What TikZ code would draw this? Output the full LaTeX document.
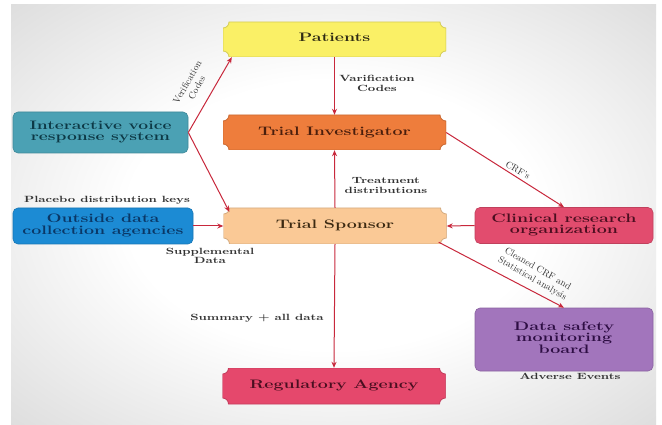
\documentclass[tikz,border=0pt]{standalone}
\usetikzlibrary{calc,arrows.meta}
\usepackage{graphicx}
\definecolor{arr}{HTML}{C8283C}
\definecolor{patF}{HTML}{FAF066}
\definecolor{patT}{HTML}{2E2A14}
\definecolor{tiF}{HTML}{EE7D3C}
\definecolor{tiT}{HTML}{4A1E0C}
\definecolor{tsF}{HTML}{FAC996}
\definecolor{tsT}{HTML}{3C2A12}
\definecolor{raF}{HTML}{E5486C}
\definecolor{raT}{HTML}{4A0E20}
\definecolor{ivF}{HTML}{4BA1B4}
\definecolor{ivT}{HTML}{0D3946}
\definecolor{odF}{HTML}{1C8BD4}
\definecolor{odT}{HTML}{0A3766}
\definecolor{crF}{HTML}{E24C6E}
\definecolor{crT}{HTML}{4C0E20}
\definecolor{dsF}{HTML}{A275BC}
\definecolor{dsT}{HTML}{2E0E44}
\definecolor{lblT}{HTML}{333333}
\pgfdeclareradialshading{bgsh}{\pgfpoint{0bp}{0bp}}{color(0bp)=(white); color(16bp)=(white); color(40bp)=(gray!32); color(50bp)=(gray!42)}
\newcommand{\wtxt}[2][1.45]{\scalebox{#1}[1]{\begin{tabular}{@{}c@{}}#2\end{tabular}}}
\begin{document}
\begin{tikzpicture}[x=1pt,y=-1pt,
 plaque/.style={inner sep=0pt, minimum width=223pt, minimum height=35pt,
   path picture={\fill[#1, draw=#1!85!black, line width=0.8pt]
     let \p1=(path picture bounding box.south west), \p2=(path picture bounding box.north east) in
     (\x1+6pt,\y1) -- (\x2-6pt,\y1) arc[start angle=180,end angle=90,radius=6pt]
     -- (\x2,\y2-6pt) arc[start angle=270,end angle=180,radius=6pt]
     -- (\x1+6pt,\y2) arc[start angle=0,end angle=-90,radius=6pt]
     -- (\x1,\y1+6pt) arc[start angle=90,end angle=0,radius=6pt] -- cycle;}},
 sidebox/.style={inner sep=0pt, rounded corners=5pt, fill=#1, draw=#1!85!black, line width=0.6pt},
 boxtxt/.style={font=\bfseries\fontsize{12.3}{11.5}\selectfont},
 lbl/.style={font=\bfseries\fontsize{9}{9.8}\selectfont, text=lblT, inner sep=0pt},
 rlbl/.style={font=\fontsize{9.5}{11}\selectfont, text=lblT, inner sep=0pt, align=center},
 conn/.style={draw=arr, line width=1pt, -{Stealth[length=6pt,width=5pt]}},
]
\useasboundingbox (0,0) rectangle (662,425);
\fill[white] (0,0) rectangle (662,425);
\shade[shading=bgsh] (11,5) rectangle (656,425);

\node[plaque=patF, boxtxt, text=patT] (pat) at (334.5,39.5) {\wtxt{Patients}};
\node[plaque=tiF, boxtxt, text=tiT] (ti) at (334.5,132.5) {\wtxt{Trial Investigator}};
\node[plaque=tsF, boxtxt, text=tsT, minimum height=36pt] (ts) at (335,226) {\wtxt{Trial Sponsor}};
\node[plaque=raF, boxtxt, text=raT, minimum height=36pt] (ra) at (334,386) {\wtxt{Regulatory Agency}};
\node[sidebox=ivF, boxtxt, text=ivT, minimum width=175pt, minimum height=41pt] (iv) at (100.5,132.5) {\wtxt[1.42]{Interactive voice\\response system}};
\node[sidebox=odF, boxtxt, text=odT, minimum width=180pt, minimum height=36pt] (od) at (103,226) {\wtxt{Outside data\\collection agencies}};
\node[sidebox=crF, boxtxt, text=crT, minimum width=178pt, minimum height=36pt] (cr) at (564,225.5) {\wtxt{Clinical research\\organization}};
\node[sidebox=dsF, boxtxt, text=dsT, minimum width=178pt, minimum height=63pt] (ds) at (564,339.5) {\wtxt{Data safety\\monitoring\\board}};

\draw[conn] (pat.south) -- (ti.north);
\draw[conn] (ts.north) -- (ti.south);
\draw[conn] (ts.south) -- (ra.north);
\draw[conn] (cr.west) -- (ts.east);
\draw[conn] (od.east) -- (ts.west);
\draw[conn] (iv.east) -- ($(pat.south west)+(9,0)$);
\draw[conn] (iv.east) -- ($(ts.north west)+(6,4)$);
\draw[conn] (ti.east) -- (cr.north);
\draw[conn] ($(ts.south east)+(-8,-2)$) -- (ds.north);

\node[lbl] (l1) at (377,84.5) {\wtxt[1.4]{Varification\\Codes}};
\node[lbl] (l2) at (386,186.5) {\wtxt[1.4]{Treatment\\distributions}};
\node[lbl] (l3) at (107,201) {\wtxt[1.4]{Placebo distribution keys}};
\node[lbl] (l4) at (210,257) {\wtxt[1.4]{Supplemental\\Data}};
\node[lbl] (l5) at (257,319) {\wtxt[1.4]{Summary + all data}};
\node[lbl] (l6) at (570,378) {\wtxt[1.4]{Adverse Events}};
\node[rlbl, rotate=60] (l7) at (192,85) {Verification\\Codes};
\node[rlbl, rotate=-30] (l8) at (518,170) {CRF's};
\node[rlbl, rotate=-30] (l9) at (535,274) {Cleaned CRF and\\Statistical analysis};
\end{tikzpicture}
\end{document}
